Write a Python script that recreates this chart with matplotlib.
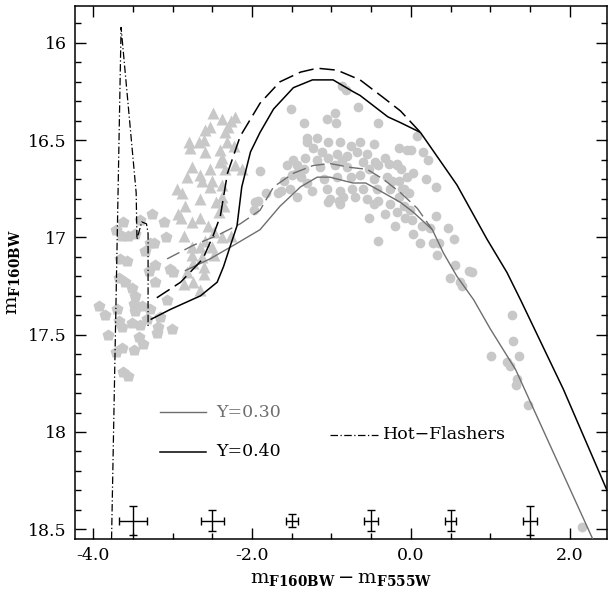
import matplotlib
matplotlib.use('Agg')
import matplotlib.pyplot as plt
from matplotlib.ticker import MultipleLocator, FormatStrFormatter

plt.rcParams['font.family'] = ['DejaVu Serif']
plt.rcParams['mathtext.fontset'] = 'dejavuserif'

# --- observed stars -------------------------------------------------------
rgb_x = [-0.87, -0.82, -1.51, -0.95, -0.66, -1.35, -1.06, -0.94, -0.42, -0.15,
         -0.05, -1.18, -1.31, -1.23, -1.04, -0.89, -0.76, -0.64, -0.47, -1.12,
         -0.93, -0.81, -0.68, -0.55, -0.32, -1.48, -1.33, -1.18, -1.04, -0.87,
         -0.60, -0.45, -0.28, -0.17, -1.56, -1.43, -1.50, -1.35, -1.14, -0.95,
         -0.81, -0.53, -0.41, -0.13, -1.60, -1.39, -1.31, -1.10, -0.93, -0.76,
         -0.64, -0.47, -0.30, -0.15, -0.05, -1.83, -1.67, -1.52, -1.43, -1.25,
         -1.06, -0.89, -0.74, -0.60, -0.43, -0.26, -0.09, -1.02, -0.85, -0.70,
         -0.55, -0.41, -0.26, -1.04, -0.89, -0.47, -0.32, -0.18, -0.53, -0.20,
         -0.41, -1.90, 0.08, 0.00, 0.15, 0.22, -0.18, 0.03, 0.19, 0.31,
         -0.24, -0.11, -0.03, -0.15, -0.09, -0.01, -0.07, 0.01, 0.31, 0.14,
         0.24, 0.47, 0.03, 0.12, 0.28, 0.35, 0.54, 0.33, 0.56, 0.73,
         0.77, 0.49, 0.62, 0.64, 1.27, 1.29, 1.01, 1.36, 1.21, 1.25,
         1.34, 1.33, 1.48, 2.15, -1.96, -1.64, -1.43, -1.31, -0.91, -1.92,
         -1.98]
rgb_y = [16.22, 16.24, 16.34, 16.36, 16.33, 16.41, 16.39, 16.41, 16.41, 16.54,
         16.55, 16.49, 16.51, 16.54, 16.51, 16.51, 16.53, 16.51, 16.52, 16.56,
         16.57, 16.58, 16.56, 16.57, 16.59, 16.60, 16.59, 16.60, 16.59, 16.60,
         16.61, 16.61, 16.62, 16.62, 16.63, 16.63, 16.68, 16.65, 16.64, 16.63,
         16.64, 16.65, 16.63, 16.65, 16.71, 16.69, 16.72, 16.70, 16.69, 16.69,
         16.68, 16.70, 16.69, 16.71, 16.69, 16.77, 16.77, 16.75, 16.79, 16.76,
         16.75, 16.76, 16.75, 16.75, 16.75, 16.75, 16.75, 16.80, 16.79, 16.79,
         16.80, 16.81, 16.83, 16.82, 16.83, 16.83, 16.88, 16.87, 16.90, 16.94,
         17.02, 16.66, 16.48, 16.55, 16.56, 16.60, 16.63, 16.67, 16.70, 16.74,
         16.71, 16.75, 16.77, 16.79, 16.84, 16.86, 16.90, 16.91, 16.89, 16.94,
         16.95, 16.95, 16.98, 17.03, 17.03, 17.03, 17.01, 17.09, 17.14, 17.17,
         17.18, 17.21, 17.23, 17.25, 17.40, 17.53, 17.61, 17.61, 17.64, 17.66,
         17.73, 17.76, 17.86, 18.49, 16.82, 16.76, 16.67, 16.49, 16.81, 16.81,
         16.86]

tri_x = [-2.49, -2.38, -2.27, -2.21, -2.53, -2.30, -2.59, -2.34, -2.61, -2.32,
         -2.80, -2.67, -2.78, -2.59, -2.40, -2.23, -2.38, -2.40, -2.76, -2.53,
         -2.34, -2.21, -2.13, -2.65, -2.82, -2.63, -2.51, -2.53, -2.38, -2.95,
         -2.88, -2.65, -2.38, -2.84, -2.46, -2.36, -2.42, -2.93, -2.90, -2.76,
         -2.65, -2.55, -2.86, -2.48, -2.38, -2.27, -2.59, -2.76, -2.65, -2.51,
         -2.76, -2.63, -2.48, -2.74, -2.61, -2.82, -2.74, -2.86, -2.61, -2.65]
tri_y = [16.36, 16.39, 16.40, 16.38, 16.43, 16.43, 16.45, 16.46, 16.50, 16.51,
         16.51, 16.51, 16.54, 16.56, 16.55, 16.53, 16.59, 16.61, 16.64, 16.65,
         16.65, 16.63, 16.65, 16.68, 16.69, 16.71, 16.71, 16.74, 16.73, 16.75,
         16.77, 16.80, 16.79, 16.84, 16.82, 16.84, 16.87, 16.88, 16.90, 16.92,
         16.90, 16.94, 16.99, 16.97, 17.00, 16.99, 17.02, 17.05, 17.05, 17.05,
         17.09, 17.10, 17.09, 17.13, 17.15, 17.18, 17.23, 17.24, 17.19, 17.27]

pent_x = [-3.62, -3.26, -3.11, -3.41, -3.72, -3.56, -3.64, -3.47, -3.09, -3.28,
          -3.35, -3.66, -3.58, -3.22, -3.30, -3.03, -3.68, -3.60, -3.51, -3.22,
          -3.47, -3.49, -3.39, -3.07, -3.93, -3.85, -3.70, -3.68, -3.47, -3.28,
          -3.51, -3.41, -3.32, -3.16, -3.18, -3.81, -3.64, -3.43, -3.20, -3.01,
          -3.64, -3.49, -3.37, -3.72, -3.62, -3.56, -3.24, -2.99]
pent_y = [16.92, 16.88, 16.92, 16.91, 16.96, 16.99, 16.99, 16.98, 17.00, 17.03,
          17.07, 17.11, 17.12, 17.14, 17.17, 17.16, 17.21, 17.23, 17.26, 17.23,
          17.30, 17.34, 17.35, 17.32, 17.35, 17.40, 17.37, 17.43, 17.38, 17.37,
          17.44, 17.45, 17.42, 17.41, 17.46, 17.50, 17.46, 17.51, 17.49, 17.47,
          17.57, 17.58, 17.55, 17.59, 17.69, 17.71, 17.03, 17.18]

# --- models ---------------------------------------------------------------
y40_x = [-3.27, -3.03, -2.65, -2.44, -2.36, -2.28, -2.19, -2.13, -2.02, -1.90,
         -1.73, -1.48, -1.24, -0.98, -0.73, -0.64, -0.29, -0.13, 0.12, 0.58,
         0.96, 1.21, 1.38, 1.92, 2.47]
y40_y = [17.42, 17.37, 17.30, 17.23, 17.15, 17.05, 16.94, 16.74, 16.56, 16.46,
         16.34, 16.23, 16.19, 16.19, 16.25, 16.27, 16.38, 16.41, 16.46, 16.73,
         17.01, 17.18, 17.32, 17.78, 18.30]

y40d_x = [-3.20, -2.90, -2.62, -2.49, -2.40, -2.31, -2.15, -1.90, -1.65, -1.39,
          -1.18, -0.93, -0.64, -0.35, -0.13, 0.12]
y40d_y = [17.31, 17.23, 17.11, 16.99, 16.89, 16.67, 16.48, 16.31, 16.20, 16.15,
          16.13, 16.14, 16.19, 16.28, 16.35, 16.46]

y30_x = [-2.84, -2.53, -2.19, -1.90, -1.65, -1.39, -1.18, -1.02, -0.73, -0.57,
         -0.39, -0.13, 0.03, 0.27, 0.41, 0.58, 0.79, 1.00, 1.32, 2.29]
y30_y = [17.17, 17.11, 17.03, 16.96, 16.84, 16.74, 16.69, 16.69, 16.72, 16.72,
         16.76, 16.82, 16.87, 16.96, 17.08, 17.20, 17.32, 17.47, 17.68, 18.55]

y30d_x = [-3.07, -2.74, -2.44, -2.15, -1.90, -1.73, -1.48, -1.23, -1.02, -0.76,
          -0.55, -0.35, -0.13, 0.08, 0.27]
y30d_y = [17.11, 17.04, 16.99, 16.93, 16.86, 16.74, 16.67, 16.63, 16.62, 16.64,
          16.65, 16.70, 16.77, 16.85, 16.96]

hot_x = [-3.77, -3.69, -3.65, -3.46, -3.45, -3.39, -3.33, -3.31, -3.31]
hot_y = [18.55, 16.81, 15.92, 16.77, 17.01, 16.92, 16.93, 16.98, 17.46]

# --- typical errors -------------------------------------------------------
err_x = [-3.5, -2.5, -1.5, -0.5, 0.5, 1.5]
err_y = [18.455] * 6
err_dx = [0.18, 0.14, 0.075, 0.09, 0.07, 0.09]
err_dy = [0.075, 0.052, 0.031, 0.052, 0.052, 0.075]

star_grey = '#c8c8c8'
line_grey = '#6e6e6e'

fig = plt.figure(figsize=(6.10, 5.91), dpi=100)
ax = fig.add_axes([0.1230, 0.0880, 0.8721, 0.9019])

ax.plot(rgb_x, rgb_y, 'o', ms=7.0, color=star_grey, mec='none', zorder=1)
ax.plot(tri_x, tri_y, '^', ms=8.0, color=star_grey, mec='none', zorder=1)
ax.plot(pent_x, pent_y, 'p', ms=9.0, color=star_grey, mec='none', zorder=1)

ax.plot(y30_x, y30_y, color=line_grey, lw=1.0, zorder=3)
ax.plot(y30d_x, y30d_y, color=line_grey, lw=1.0, dashes=(10, 4), zorder=3)
ax.plot(y40_x, y40_y, color='black', lw=1.1, zorder=3)
ax.plot(y40d_x, y40d_y, color='black', lw=1.1, dashes=(10, 4), zorder=3)
ax.plot(hot_x, hot_y, color='black', lw=0.9, dashes=(6, 2, 1, 2), zorder=3)

ax.errorbar(err_x, err_y, xerr=err_dx, yerr=err_dy, fmt='none',
            ecolor='black', elinewidth=1.0, capsize=3, capthick=1.0, zorder=4)

# legend drawn by hand
tr = ax.transAxes
ax.plot([0.159, 0.247], [0.238, 0.238], color=line_grey, lw=1.0, transform=tr)
ax.text(0.265, 0.238, 'Y=0.30', color=line_grey, fontsize=12.5,
        va='center', transform=tr)
ax.plot([0.159, 0.247], [0.164, 0.164], color='black', lw=1.1, transform=tr)
ax.text(0.265, 0.164, 'Y=0.40', color='black', fontsize=12.5,
        va='center', transform=tr)
ax.plot([0.479, 0.569], [0.196, 0.196], color='black', lw=0.9,
        dashes=(6, 2, 1, 2), transform=tr)
ax.text(0.579, 0.196, 'Hot\u2212Flashers', color='black', fontsize=12.5,
        va='center', transform=tr)

ax.set_xlim(-4.23, 2.47)
ax.set_ylim(18.55, 15.81)

ax.xaxis.set_major_locator(MultipleLocator(2.0))
ax.xaxis.set_minor_locator(MultipleLocator(0.5))
ax.yaxis.set_major_locator(MultipleLocator(0.5))
ax.yaxis.set_minor_locator(MultipleLocator(0.1))
ax.xaxis.set_major_formatter(FormatStrFormatter('%.1f'))
ax.yaxis.set_major_formatter(plt.FuncFormatter(lambda v, p: ('%g' % v)))

ax.tick_params(which='both', direction='in', top=True, right=True,
               labelsize=12.5, width=1.0)
ax.tick_params(which='major', length=8, pad=6)
ax.tick_params(which='minor', length=4.5)
for s in ax.spines.values():
    s.set_linewidth(1.1)

ax.set_xlabel(r'$\mathrm{m}_{\mathbf{F160BW}}-\mathrm{m}_{\mathbf{F555W}}$',
              fontsize=14, labelpad=4)
ax.set_ylabel(r'$\mathrm{m}_{\mathbf{F160BW}}$', fontsize=14, labelpad=4)

fig.savefig('out.png', dpi=100)
